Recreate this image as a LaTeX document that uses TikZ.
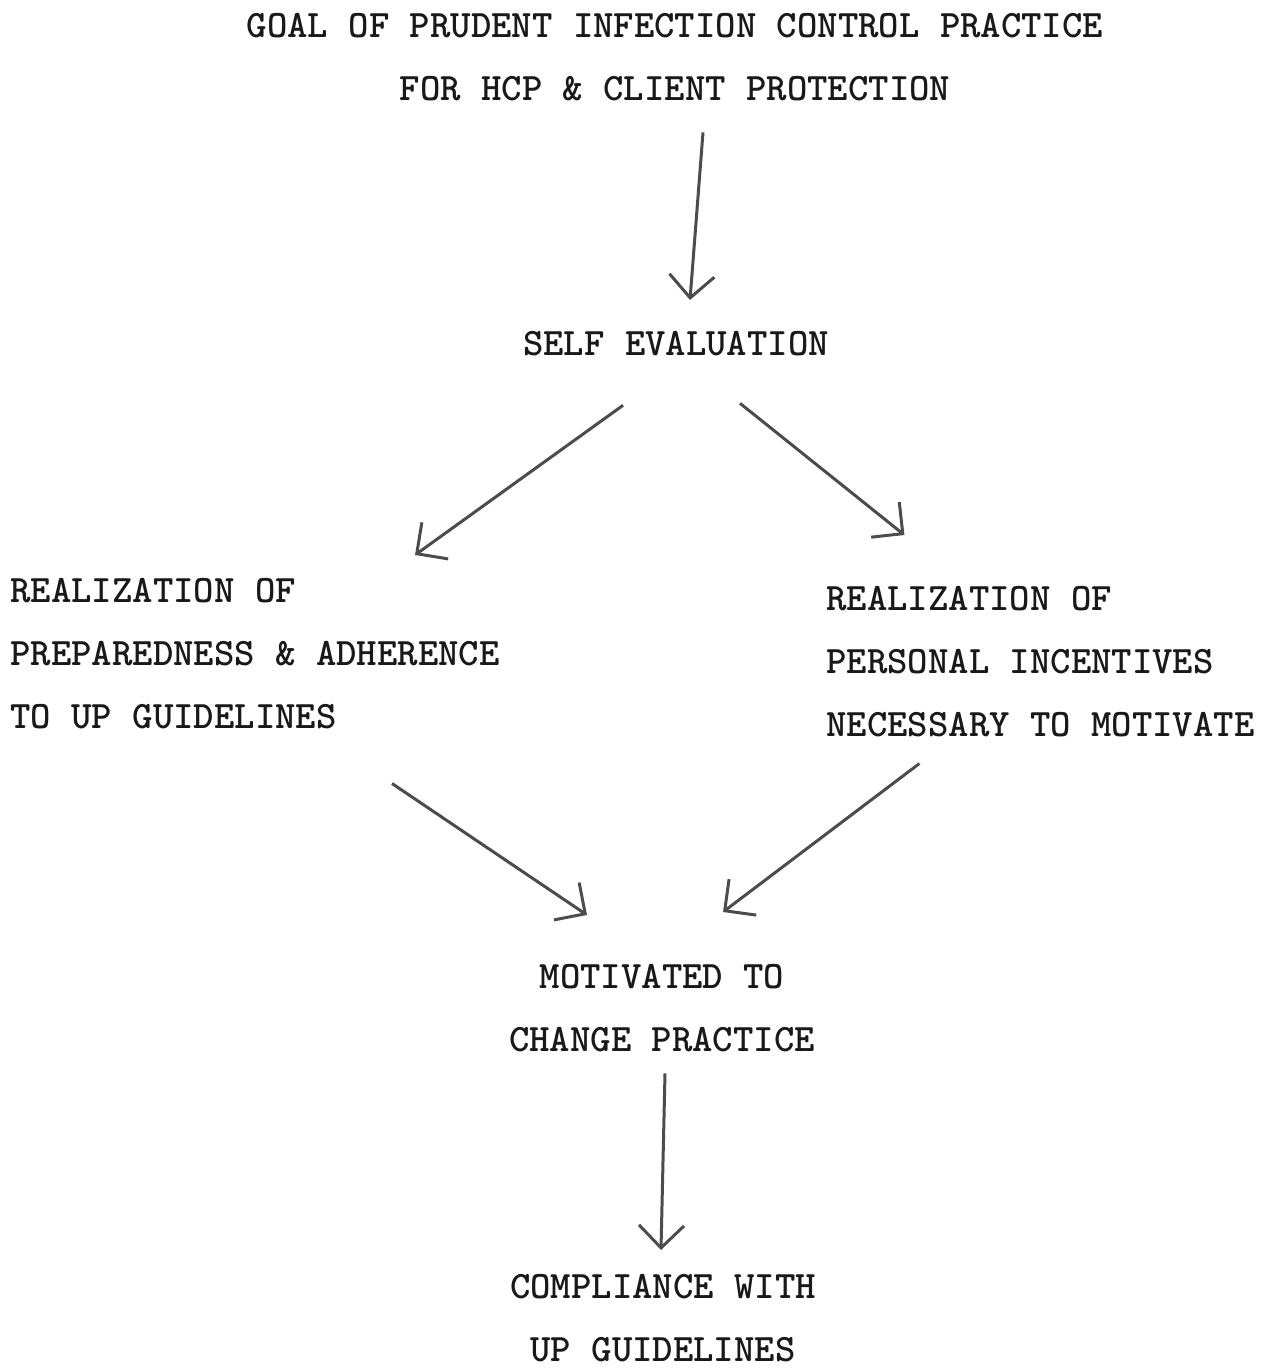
\documentclass[tikz,border=0pt]{standalone}
\usepackage{fontspec}
\usepackage{tikz}
\usetikzlibrary{arrows.meta}

\tikzset{
  txt/.style={inner sep=0pt,font={\ttfamily\bfseries\fontsize{22.1}{35.9}\selectfont},text=black!90},
  flow/.style={->,line width=0.6mm,draw=black!70}
}

\begin{document}
\begin{tikzpicture}[scale=1.0,>={Straight Barb[length=4.5mm,width=9mm]}]
\useasboundingbox (0,0) rectangle (25.34,-27.44);
\node[txt,align=center,anchor=north] (goal) at (13.50,-0.26) {GOAL OF PRUDENT INFECTION CONTROL PRACTICE\\FOR HCP \& CLIENT PROTECTION};
\node[txt,anchor=north] (self) at (13.52,-6.62) {SELF EVALUATION};
\node[txt,align=left,anchor=north west] (prep) at (0.2,-11.56) {REALIZATION OF\\PREPAREDNESS \& ADHERENCE\\TO UP GUIDELINES};
\node[txt,align=left,anchor=north west] (incent) at (16.52,-11.72) {REALIZATION OF\\PERSONAL INCENTIVES\\NECESSARY TO MOTIVATE};
\node[txt,align=center,anchor=north] (motiv) at (13.24,-19.28) {MOTIVATED TO\\CHANGE PRACTICE};
\node[txt,align=center,anchor=north] (comp) at (13.26,-25.48) {COMPLIANCE WITH\\UP GUIDELINES};
\draw[flow] ([shift={(0.56,-0.62)}]goal.south) -- ([shift={(0.28,0.62)}]self.north);
\draw[flow] ([shift={(-1.06,-0.98)}]self.south) -- ([shift={(3.2,0.46)}]prep.north);
\draw[flow] ([shift={(1.28,-0.94)}]self.south) -- ([shift={(-2.72,1.02)}]incent.north);
\draw[flow] ([shift={(2.74,-1.08)}]prep.south) -- ([shift={(-1.5,0.98)}]motiv.north);
\draw[flow] ([shift={(-2.42,-0.52)}]incent.south) -- ([shift={(1.22,1.04)}]motiv.north);
\draw[flow] ([shift={(0.06,-0.42)}]motiv.south) -- ([shift={(-0.04,0.48)}]comp.north);
\end{tikzpicture}
\end{document}
